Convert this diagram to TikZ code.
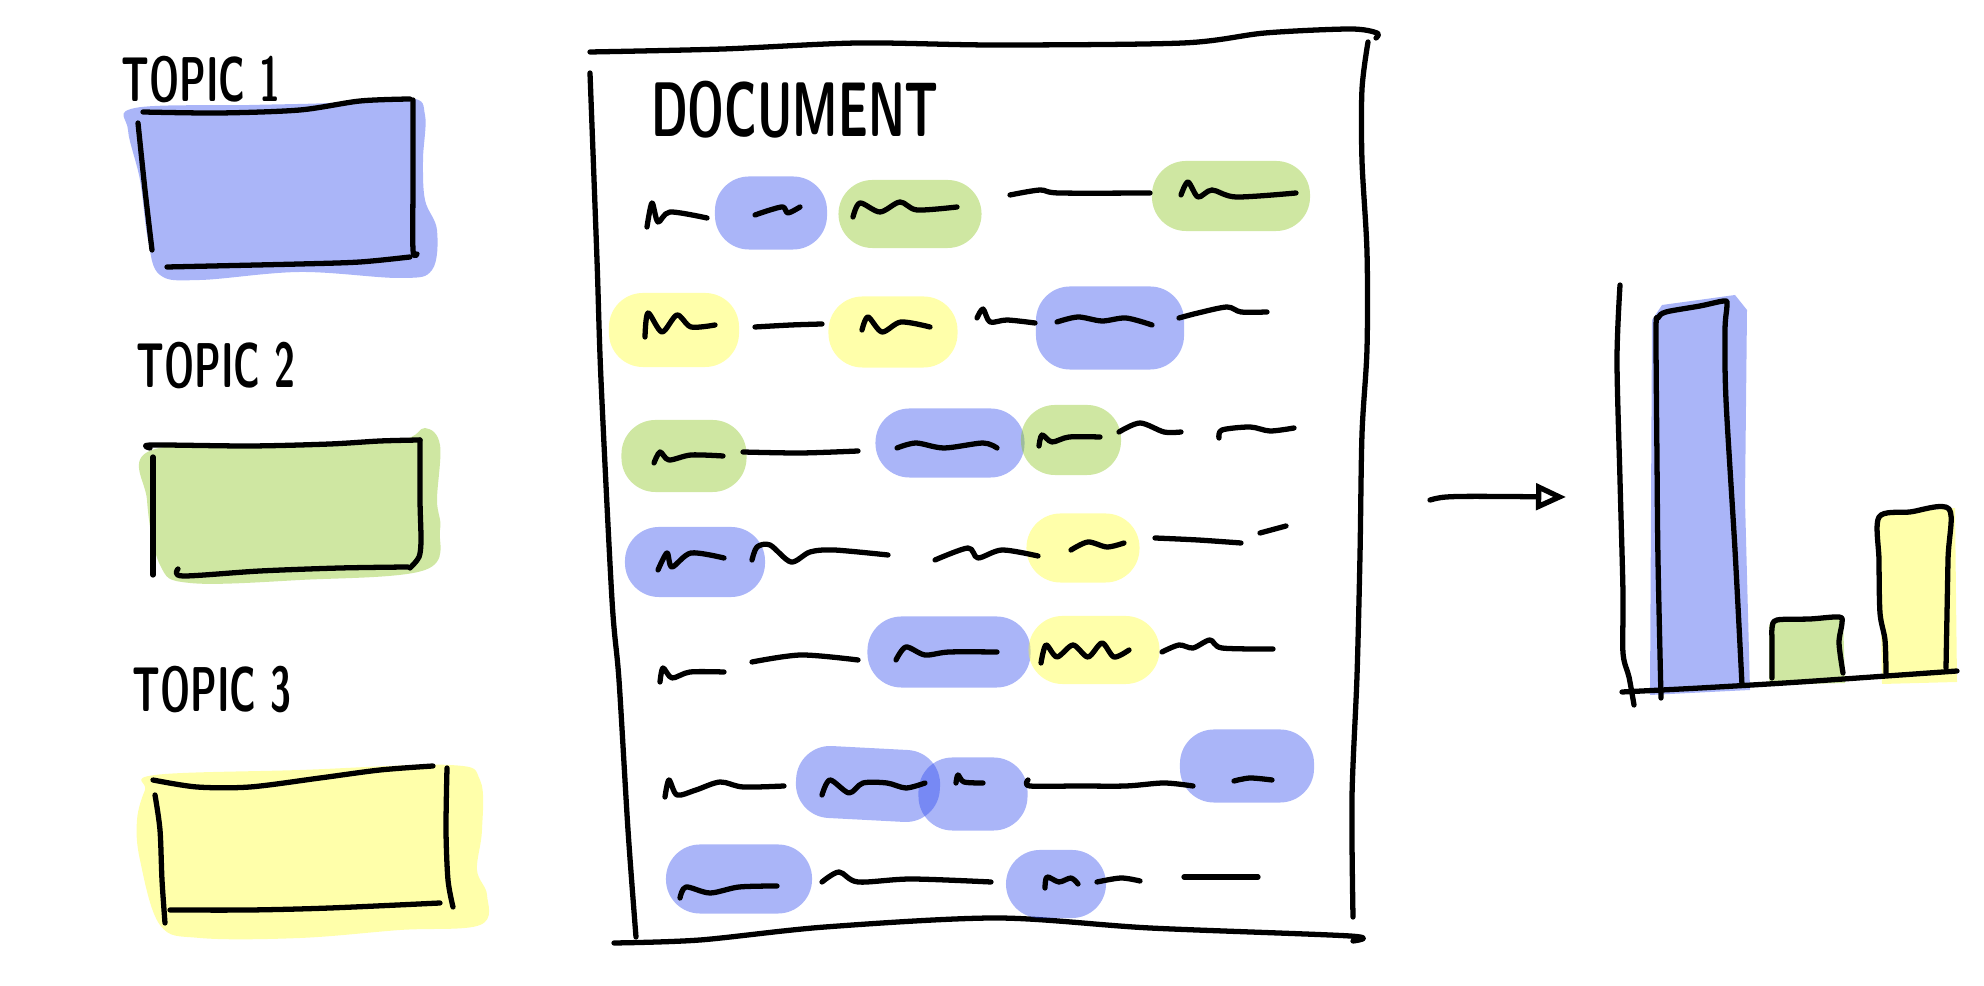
\documentclass[tikz,border=0pt]{standalone}
\usetikzlibrary{arrows.meta}
\definecolor{penblue}{RGB}{48,75,238}
\definecolor{pengreen}{RGB}{138,196,28}
\definecolor{penyellow}{RGB}{255,255,48}

\begin{document}
\begin{tikzpicture}[x=0.01cm,y=-0.01cm,line cap=round,line join=round]
    \tikzstyle{ink}=[draw=black,line width=1.5pt]
    \tikzstyle{blob}=[draw=none,fill opacity=0.41]
    \tikzstyle{hl}=[blob,rounded corners=0.34cm,inner sep=0pt]
    \tikzstyle{hl blue}=[hl,fill=penblue]
    \tikzstyle{hl green}=[hl,fill=pengreen]
    \tikzstyle{hl yellow}=[hl,fill=penyellow]
    \tikzstyle{handtext}=[font=\sffamily\bfseries\fontsize{18}{18}\selectfont,xscale=0.6,inner sep=0pt]
    \useasboundingbox (0,0) rectangle (1984,986);

    % topics
    \fill[blob,fill=penblue] plot[smooth cycle,tension=0.6] coordinates {(135,108) (250,105) (330,103) (410,98) (425,115) (423,160) (425,200) (437,230) (432,270) (400,278) (300,272) (200,280) (160,275) (148,240) (140,180) (128,130)};
    \fill[blob,fill=pengreen] plot[smooth cycle,tension=0.6] coordinates {(152,450) (300,445) (400,440) (425,428) (440,445) (437,500) (440,530) (425,570) (300,580) (190,583) (160,565) (147,500)};
    \fill[blob,fill=penyellow] plot[smooth cycle,tension=0.6] coordinates {(155,775) (300,770) (450,765) (480,780) (482,830) (477,870) (487,895) (480,925) (400,930) (300,938) (200,938) (160,925) (140,860) (137,820) (145,790)};

    \node[handtext] (topic1) at (201,80) {TOPIC 1};
    \node[handtext] (topic2) at (216,366) {TOPIC 2};
    \node[handtext] (topic3) at (212,690) {TOPIC 3};

    \draw[ink] plot[smooth] coordinates {(143,112) (220,113) (300,110) (360,101) (410,99)};
    \draw[ink] plot[smooth] coordinates {(413,100) (413,180) (413,250) (417,254)};
    \draw[ink] plot[smooth] coordinates {(138,123) (145,190) (152,250)};
    \draw[ink] plot[smooth] coordinates {(167,267) (300,264) (360,262) (410,257)};

    \draw[ink] plot[smooth] coordinates {(150,448) (152,445) (250,446) (330,444) (380,441) (420,440)};
    \draw[ink] plot[smooth] coordinates {(420,440) (420,500) (421,540) (419,557) (410,568)};
    \draw[ink] plot[smooth] coordinates {(153,457) (153,520) (153,575)};
    \draw[ink] plot[smooth] coordinates {(178,569) (183,576) (260,571) (340,568) (408,567)};

    \draw[ink] plot[smooth] coordinates {(153,780) (197,787) (250,787) (320,778) (380,770) (433,766)};
    \draw[ink] plot[smooth] coordinates {(447,768) (446,830) (448,880) (453,907)};
    \draw[ink] plot[smooth] coordinates {(155,795) (160,830) (162,880) (165,923)};
    \draw[ink] plot[smooth] coordinates {(170,910) (250,910) (330,908) (440,903)};

    % document
    \draw[ink] plot[smooth] coordinates {(590,52) (723,49) (858,43) (994,45) (1183,43) (1265,33) (1350,29) (1377,33) (1376,38)};
    \draw[ink] plot[smooth] coordinates {(1368,42) (1362,89) (1362,161) (1367,252) (1367,349) (1362,434) (1360,555) (1357,676) (1352,797) (1353,917)};
    \draw[ink] plot[smooth] coordinates {(590,73) (597,260) (601,380) (612,600) (619,680) (628,830) (636,937)};
    \draw[ink] plot[smooth] coordinates {(614,943) (700,940) (825,927) (997,918) (1150,928) (1350,936) (1353,941)};
    \node[handtext,font=\sffamily\bfseries\fontsize{22}{22}\selectfont] (doc) at (795,110) {DOCUMENT};

    \node[hl blue,minimum width=1.12cm,minimum height=0.73cm] (b11) at (771,213) {};
    \node[hl green,minimum width=1.43cm,minimum height=0.68cm] (g12) at (910,214) {};
    \node[hl green,minimum width=1.58cm,minimum height=0.70cm] (g13) at (1231,196) {};
    \node[hl yellow,minimum width=1.30cm,minimum height=0.74cm] (y21) at (674,330) {};
    \node[hl yellow,minimum width=1.29cm,minimum height=0.71cm] (y22) at (893,332) {};
    \node[hl blue,minimum width=1.48cm,minimum height=0.83cm] (b23) at (1110,328) {};
    \node[hl green,minimum width=1.25cm,minimum height=0.72cm] (g31) at (684,456) {};
    \node[hl blue,minimum width=1.49cm,minimum height=0.69cm] (b32) at (950,443) {};
    \node[hl green,minimum width=1.00cm,minimum height=0.70cm] (g33) at (1071,440) {};
    \node[hl blue,minimum width=1.40cm,minimum height=0.70cm] (b41) at (695,562) {};
    \node[hl yellow,minimum width=1.13cm,minimum height=0.69cm] (y42) at (1083,548) {};
    \node[hl blue,minimum width=1.63cm,minimum height=0.71cm] (b51) at (949,652) {};
    \node[hl yellow,minimum width=1.31cm,minimum height=0.68cm] (y52) at (1094,650) {};
    \node[hl blue,minimum width=1.44cm,minimum height=0.72cm,rotate=-3] (b61) at (868,784) {};
    \node[hl blue,minimum width=1.09cm,minimum height=0.73cm] (b62) at (973,794) {};
    \node[hl blue,minimum width=1.34cm,minimum height=0.73cm] (b63) at (1247,766) {};
    \node[hl blue,minimum width=1.46cm,minimum height=0.69cm] (b71) at (739,879) {};
    \node[hl blue,minimum width=1.00cm,minimum height=0.68cm] (b72) at (1056,884) {};

    \draw[ink] plot[smooth] coordinates {(647,227) (652,203) (658,222) (670,212) (707,218)};
    \draw[ink] plot[smooth] coordinates {(755,215) (770,210) (783,207) (788,213) (800,207)};
    \draw[ink] plot[smooth] coordinates {(853,217) (860,203) (880,212) (900,202) (917,210) (957,207)};
    \draw[ink] plot[smooth] coordinates {(1010,195) (1040,190) (1059,193) (1150,193)};
    \draw[ink] plot[smooth] coordinates {(1181,195) (1188,182) (1198,197) (1212,190) (1236,197) (1296,193)};

    \draw[ink] plot[smooth] coordinates {(645,337) (648,313) (662,332) (677,315) (691,327) (715,325)};
    \draw[ink] plot[smooth] coordinates {(755,327) (791,325) (822,324)};
    \draw[ink] plot[smooth] coordinates {(862,330) (868,317) (882,332) (901,322) (930,327)};
    \draw[ink] plot[smooth] coordinates {(977,318) (983,309) (990,322) (1007,320) (1035,323)};
    \draw[ink] plot[smooth] coordinates {(1057,322) (1078,317) (1102,321) (1126,318) (1152,325)};
    \draw[ink] plot[smooth] coordinates {(1179,318) (1198,313) (1227,307) (1241,312) (1267,312)};

    \draw[ink] plot[smooth] coordinates {(654,463) (660,452) (669,460) (691,455) (723,456)};
    \draw[ink] plot[smooth] coordinates {(743,452) (801,453) (858,451)};
    \draw[ink] plot[smooth] coordinates {(897,448) (916,443) (944,448) (983,443) (997,448)};
    \draw[ink] plot[smooth] coordinates {(1039,446) (1042,435) (1052,442) (1069,437) (1100,437)};
    \draw[ink] plot[smooth] coordinates {(1119,432) (1140,423) (1164,432) (1181,432)};
    \draw[ink] plot[smooth] coordinates {(1219,438) (1222,430) (1250,427) (1270,431) (1294,428)};

    \draw[ink] plot[smooth] coordinates {(658,570) (667,553) (672,567) (691,553) (724,558)};
    \draw[ink] plot[smooth] coordinates {(752,560) (757,547) (770,545) (791,562) (810,552) (834,550) (888,555)};
    \draw[ink] plot[smooth] coordinates {(935,560) (968,548) (978,558) (1002,550) (1038,556)};
    \draw[ink] plot[smooth] coordinates {(1071,550) (1088,542) (1107,547) (1124,543)};
    \draw[ink] plot[smooth] coordinates {(1155,538) (1198,540) (1241,543)};
    \draw[ink] plot[smooth] coordinates {(1260,533) (1286,526)};

    \draw[ink] plot[smooth] coordinates {(660,682) (663,668) (672,678) (690,672) (724,672)};
    \draw[ink] plot[smooth] coordinates {(752,662) (801,655) (858,660)};
    \draw[ink] plot[smooth] coordinates {(896,660) (906,647) (925,655) (949,652) (997,652)};
    \draw[ink] plot[smooth] coordinates {(1041,663) (1046,645) (1057,657) (1073,645) (1088,657) (1102,643) (1114,657) (1129,650)};
    \draw[ink] plot[smooth] coordinates {(1162,652) (1179,645) (1193,648) (1210,640) (1222,648) (1273,649)};

    \draw[ink] plot[smooth] coordinates {(665,797) (669,780) (677,795) (696,790) (720,782) (743,787) (784,786)};
    \draw[ink] plot[smooth] coordinates {(822,795) (830,780) (849,793) (863,783) (887,783) (906,788) (925,783)};
    \draw[ink] plot[smooth] coordinates {(956,783) (958,775) (964,782) (983,783)};
    \draw[ink] plot[smooth] coordinates {(1028,780) (1030,786) (1078,786) (1126,786) (1164,783) (1193,786)};
    \draw[ink] plot[smooth] coordinates {(1234,781) (1250,778) (1272,780)};

    \draw[ink] plot[smooth] coordinates {(680,898) (686,887) (710,893) (739,887) (777,886)};
    \draw[ink] plot[smooth] coordinates {(822,882) (839,872) (858,882) (911,879) (991,882)};
    \draw[ink] plot[smooth] coordinates {(1045,888) (1047,877) (1059,882) (1071,878) (1078,884)};
    \draw[ink] plot[smooth] coordinates {(1097,882) (1121,878) (1140,881)};
    \draw[ink] plot[smooth] coordinates {(1184,877) (1258,877)};

    % arrow
    \coordinate (from) at (1430,500);
    \coordinate (to) at (1566,497);
    \draw[ink,-{Triangle[open,length=0.3cm,width=0.26cm]}] (from) .. controls (1445,496) .. (to);

    % chart
    \fill[blob,fill=penblue] (1652,320) -- (1662,305) -- (1735,295) -- (1747,310) -- (1745,500) -- (1750,690) -- (1650,695) -- cycle;
    \fill[blob,fill=pengreen] (1769,625) -- (1775,620) -- (1843,617) -- (1845,683) -- (1769,685) -- cycle;
    \fill[blob,fill=penyellow] (1879,515) -- (1955,508) -- (1957,682) -- (1882,684) -- cycle;
    \draw[ink] plot[smooth] coordinates {(1620,285) (1617,360) (1620,480) (1623,593) (1623,653) (1629,677) (1634,705)};
    \draw[ink] plot[smooth] coordinates {(1622,692) (1700,688) (1800,682) (1957,671)};
    \draw[ink] plot[smooth] coordinates {(1661,698) (1658,560) (1657,460) (1656,330) (1658,318) (1666,312) (1700,306) (1724,301) (1727,305) (1725,330) (1726,400) (1735,550) (1742,685)};
    \draw[ink] plot[smooth] coordinates {(1772,678) (1772,640) (1772,628) (1777,620) (1810,619) (1839,617) (1842,623) (1839,643) (1843,673)};
    \draw[ink] plot[smooth] coordinates {(1886,673) (1885,640) (1880,613) (1879,560) (1879,517) (1910,512) (1949,509) (1948,560) (1946,668)};
\end{tikzpicture}
\end{document}
